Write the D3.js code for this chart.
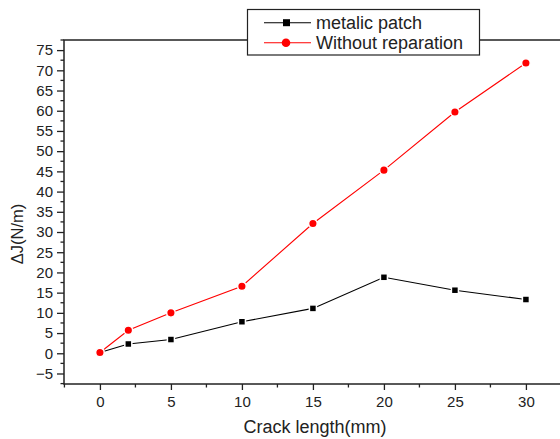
<!DOCTYPE html>
<html>
<head>
<meta charset="utf-8">
<script src="https://cdn.jsdelivr.net/npm/d3@7"></script>
<style>
  body { margin: 0; background: #fff; }
  text { font-family: 'Liberation Sans', Arial, sans-serif; fill: #222; }
</style>
</head>
<body>
<svg id="graphic" width="560" height="439"></svg>
<script>
const crackLength = [0, 2, 5, 10, 15, 20, 25, 30];
const metalicPatch = [0.2, 2.3, 3.4, 7.8, 11.1, 18.8, 15.6, 13.3];
const withoutReparation = [0.2, 5.7, 10.0, 16.6, 32.1, 45.3, 59.7, 71.8];
const xTicks = [0, 5, 10, 15, 20, 25, 30];
const yTicks = [-5, 0, 5, 10, 15, 20, 25, 30, 35, 40, 45, 50, 55, 60, 65, 70, 75];
const seriesNames = ['metalic patch', 'Without reparation'];

const margins = {left: 64, top: 40, right: 0, bottom: 55};
const width = 560 - margins.left - margins.right;
const height = 439 - margins.top - margins.bottom;

const svg = d3.select('#graphic');

const xScale = d3.scaleLinear().domain([-2.53, 32.4]).range([margins.left, margins.left + width]);
const yScale = d3.scaleLinear().domain([-7.6, 77.5]).range([margins.top + height, margins.top]);

// frame
svg.append('rect')
    .attr('x', margins.left)
    .attr('y', margins.top)
    .attr('width', width + 1)
    .attr('height', height)
    .attr('fill', 'none')
    .attr('stroke', '#222')
    .attr('stroke-width', 1.5);

// minor ticks
const xMinor = d3.range(-2.5, 32.5, 2.5).filter((d) => d % 5 !== 0);
const yMinor = d3.range(-7.5, 77.6, 2.5).filter((d) => d % 5 !== 0);

const xAxis = d3.axisBottom(xScale).tickValues(xTicks).tickSize(6).tickPadding(6);
const yAxis = d3.axisLeft(yScale).tickValues(yTicks).tickSize(7).tickPadding(4);

svg.append('g')
    .attr('transform', `translate(0, ${margins.top + height})`)
    .call(xAxis)
    .call((g) => g.select('.domain').remove());

svg.append('g')
    .attr('transform', `translate(${margins.left}, 0)`)
    .call(yAxis)
    .call((g) => g.select('.domain').remove());

svg.selectAll('.tick line').attr('stroke', '#222').attr('stroke-width', 1.3);
svg.selectAll('.tick text').attr('font-size', 15).attr('fill', '#222')
    .attr('font-family', "'Liberation Sans', Arial, sans-serif");

svg.append('g').selectAll('line')
    .data(xMinor)
    .join('line')
    .attr('x1', (d) => xScale(d)).attr('x2', (d) => xScale(d))
    .attr('y1', margins.top + height).attr('y2', margins.top + height + 3.5)
    .attr('stroke', '#222').attr('stroke-width', 1.3);

svg.append('g').selectAll('line')
    .data(yMinor)
    .join('line')
    .attr('y1', (d) => yScale(d)).attr('y2', (d) => yScale(d))
    .attr('x1', margins.left).attr('x2', margins.left - 3.5)
    .attr('stroke', '#222').attr('stroke-width', 1.3);

// axis titles
svg.append('text')
    .attr('x', 315)
    .attr('y', 433)
    .attr('text-anchor', 'middle')
    .attr('font-size', 18)
    .text('Crack length(mm)');

svg.append('text')
    .attr('transform', 'translate(23, 234) rotate(-90)')
    .attr('text-anchor', 'middle')
    .attr('font-size', 16.5)
    .text('\u0394J(N/m)');

// series
const line = d3.line().x((d) => xScale(d[0])).y((d) => yScale(d[1]));

const blackPts = crackLength.map((x, i) => [x, metalicPatch[i]]);
const redPts = crackLength.map((x, i) => [x, withoutReparation[i]]);

svg.append('path').datum(blackPts)
    .attr('d', line).attr('fill', 'none').attr('stroke', '#000').attr('stroke-width', 1.1);
svg.append('path').datum(redPts)
    .attr('d', line).attr('fill', 'none').attr('stroke', '#ff0000').attr('stroke-width', 1.1);

svg.append('g').selectAll('rect')
    .data(blackPts)
    .join('rect')
    .attr('x', (d) => xScale(d[0]) - 3.5)
    .attr('y', (d) => yScale(d[1]) - 3.5)
    .attr('width', 7).attr('height', 7)
    .attr('fill', '#000').attr('stroke', '#fff').attr('stroke-width', 1.5);

svg.append('g').selectAll('circle')
    .data(redPts)
    .join('circle')
    .attr('cx', (d) => xScale(d[0]))
    .attr('cy', (d) => yScale(d[1]))
    .attr('r', 4.3)
    .attr('fill', '#ff0000').attr('stroke', '#fff').attr('stroke-width', 1.5);

// legend
const legend = svg.append('g');
legend.append('rect')
    .attr('x', 247.5).attr('y', 9.5)
    .attr('width', 232).attr('height', 45.5)
    .attr('fill', '#fff').attr('stroke', '#222').attr('stroke-width', 1.2);

const legendRows = [
  {name: seriesNames[0], color: '#000', y: 22.7, shape: 'square'},
  {name: seriesNames[1], color: '#ff0000', y: 42.7, shape: 'circle'},
];

legendRows.forEach((r) => {
  legend.append('line')
      .attr('x1', 264).attr('x2', 311)
      .attr('y1', r.y).attr('y2', r.y)
      .attr('stroke', r.color).attr('stroke-width', 1.1);
  if (r.shape === 'square') {
    legend.append('rect')
        .attr('x', 283).attr('y', r.y - 3.5)
        .attr('width', 7).attr('height', 7)
        .attr('fill', r.color);
  } else {
    legend.append('circle')
        .attr('cx', 286).attr('cy', r.y).attr('r', 4.3)
        .attr('fill', r.color);
  }
  legend.append('text')
      .attr('x', 316).attr('y', r.y + 6.5)
      .attr('font-size', 18)
      .attr('fill', '#111')
      .text(r.name);
});
</script>
</body>
</html>
